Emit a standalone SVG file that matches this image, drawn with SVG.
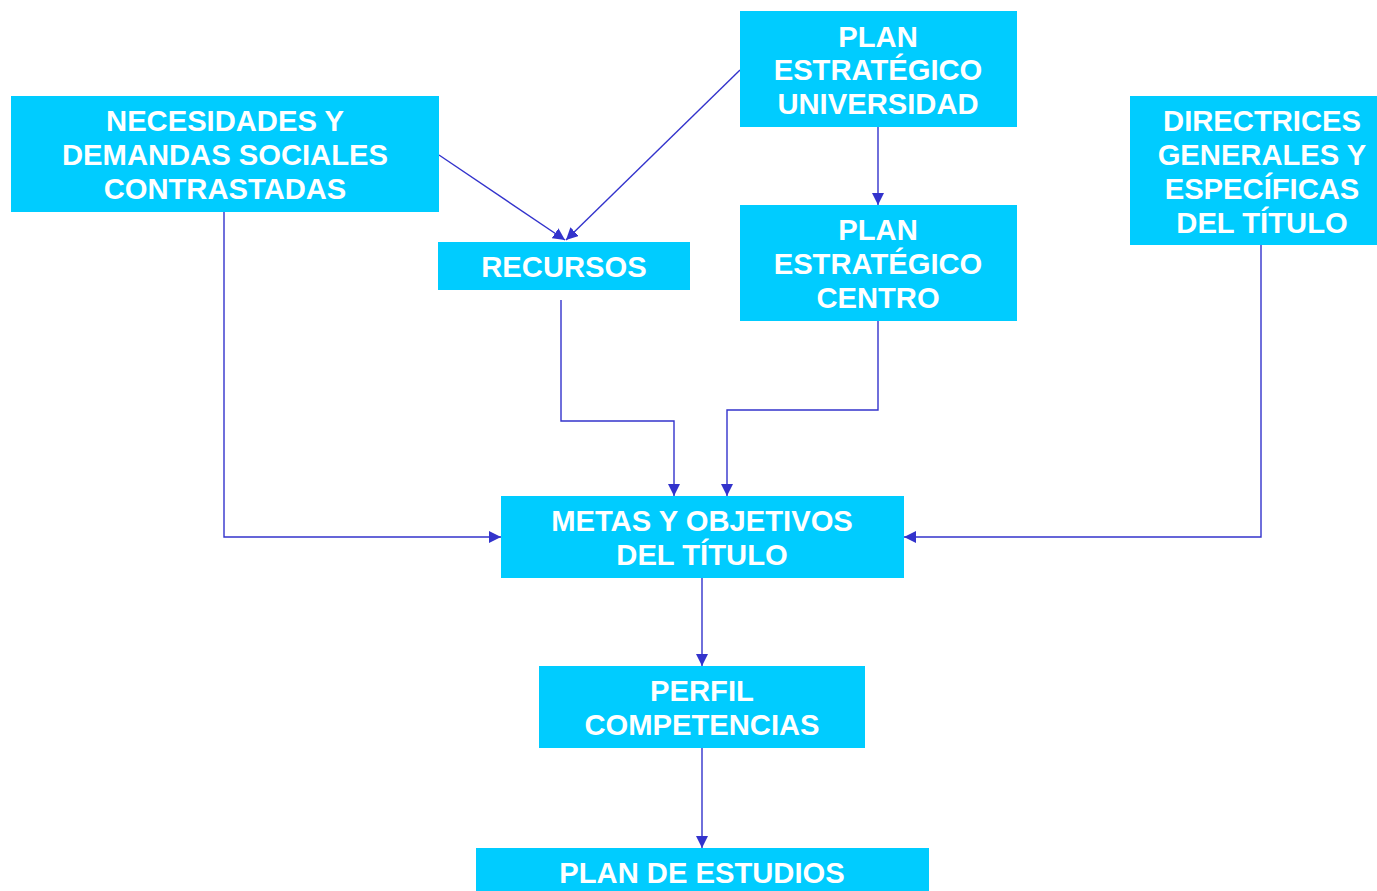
<svg xmlns="http://www.w3.org/2000/svg" width="1377" height="891" viewBox="0 0 1377 891">
<style>
.box{fill:#00CCFF;}
.t{font-family:"Liberation Sans",Arial,sans-serif;font-weight:bold;font-size:29.2px;fill:#FFFFFF;text-anchor:middle;dominant-baseline:central;}
.c{fill:none;stroke:#3333CC;stroke-width:1.4;marker-end:url(#ah);}
</style>
<defs>
<marker id="ah" viewBox="0 0 12 12" refX="12" refY="6" markerWidth="12" markerHeight="12" markerUnits="userSpaceOnUse" orient="auto">
<path d="M0,0 L12,6 L0,12 Z" fill="#3333CC"/>
</marker>
</defs>
<rect width="1377" height="891" fill="#FFFFFF"/>
<g id="connectors">
<path class="c" d="M439,155 L565,240"/>
<path class="c" d="M740,70 L566,240"/>
<path class="c" d="M878,127 L878,205"/>
<path class="c" d="M561,300 L561,421 L674,421 L674,496"/>
<path class="c" d="M878,321 L878,410 L727,410 L727,496"/>
<path class="c" d="M224,212 L224,537 L501,537"/>
<path class="c" d="M1261,245 L1261,537 L904,537"/>
<path class="c" d="M702,578 L702,666"/>
<path class="c" d="M702,748 L702,848"/>
</g>
<g id="node-necesidades">
<rect class="box" x="11" y="96" width="428" height="116"/>
<text class="t" x="225" y="121">NECESIDADES Y</text>
<text class="t" x="225" y="155">DEMANDAS SOCIALES</text>
<text class="t" x="225" y="189">CONTRASTADAS</text>
</g>
<g id="node-plan-universidad">
<rect class="box" x="740" y="11" width="277" height="116"/>
<text class="t" x="878" y="37">PLAN</text>
<text class="t" x="878" y="70">ESTRATÉGICO</text>
<text class="t" x="878" y="104">UNIVERSIDAD</text>
</g>
<g id="node-directrices">
<rect class="box" x="1130" y="96" width="247" height="149"/>
<text class="t" x="1262" y="121">DIRECTRICES</text>
<text class="t" x="1262" y="155">GENERALES Y</text>
<text class="t" x="1262" y="189">ESPECÍFICAS</text>
<text class="t" x="1262" y="223">DEL TÍTULO</text>
</g>
<g id="node-recursos">
<rect class="box" x="438" y="242" width="252" height="48"/>
<text class="t" x="564" y="267">RECURSOS</text>
</g>
<g id="node-plan-centro">
<rect class="box" x="740" y="205" width="277" height="116"/>
<text class="t" x="878" y="230">PLAN</text>
<text class="t" x="878" y="264">ESTRATÉGICO</text>
<text class="t" x="878" y="298">CENTRO</text>
</g>
<g id="node-metas">
<rect class="box" x="501" y="496" width="403" height="82"/>
<text class="t" x="702" y="521">METAS Y OBJETIVOS</text>
<text class="t" x="702" y="555">DEL TÍTULO</text>
</g>
<g id="node-perfil">
<rect class="box" x="539" y="666" width="326" height="82"/>
<text class="t" x="702" y="691">PERFIL</text>
<text class="t" x="702" y="725">COMPETENCIAS</text>
</g>
<g id="node-plan-estudios">
<rect class="box" x="476" y="848" width="453" height="43"/>
<text class="t" x="702" y="873">PLAN DE ESTUDIOS</text>
</g>
</svg>
